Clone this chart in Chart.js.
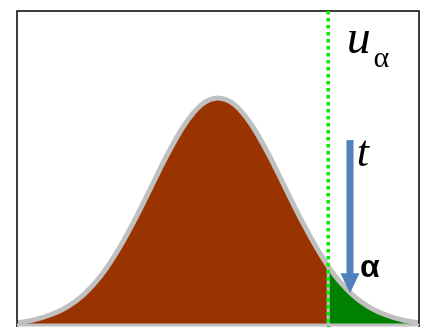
<!DOCTYPE html>
<html lang="en">
<head>
    <meta name="viewport" content="width=device-width, initial-scale=1">
    <title>Normal curve with u alpha</title>
    <script src="https://cdn.jsdelivr.net/npm/chart.js"></script>
    <style>
        html, body {
            margin: 0;
            padding: 0;
            background: #ffffff;
        }

        #chart-container {
            width: 424px;
            height: 327px;
        }

        /* makes the fonts load before the canvas uses them */
        .preload {
            position: absolute;
            left: -1000px;
            top: 0;
        }
    </style>
</head>
<body>

<div class="preload">
    <span style="font: italic 20px 'Liberation Serif'">u t</span>
    <span style="font: 20px 'Liberation Serif'">&alpha;</span>
    <span style="font: bold 20px 'Liberation Sans'">&alpha;</span>
</div>

<div id="chart-container">
    <canvas id="normalChart"></canvas>
</div>

<script>
    // density, x in sigma units
    const curveX = [-3, -2.75, -2.5, -2.25, -2, -1.75, -1.5, -1.25, -1, -0.75, -0.5, -0.25, 0,
        0.25, 0.5, 0.75, 1, 1.25, 1.5, 1.645, 1.75, 2, 2.25, 2.5, 2.75, 3];
    const curveY = [0.004, 0.009, 0.018, 0.032, 0.054, 0.086, 0.130, 0.183, 0.242, 0.301, 0.352, 0.387, 0.399,
        0.387, 0.352, 0.301, 0.242, 0.183, 0.130, 0.103, 0.086, 0.054, 0.032, 0.018, 0.009, 0.004];
    const uAlpha = 1.645;
    const uAlphaY = 0.103;

    // arrow "t" (x, top, bottom) in data units
    const arrowX = 1.97;
    const arrowTop = 0.325;
    const arrowBottom = 0.056;

    const labels = [
        { text: 'u', x: 1.92, y: 0.478, font: 'italic 48px "Liberation Serif", serif' },
        { text: '\u03b1', x: 2.32, y: 0.453, font: '30px "Liberation Serif", serif' },
        { text: 't', x: 2.07, y: 0.28, font: 'italic 44px "Liberation Serif", serif' },
        { text: '\u03b1', x: 2.12, y: 0.084, font: 'bold 32px "Liberation Sans", sans-serif' }
    ];

    const allPts = curveX.map((x, i) => ({ x: x, y: curveY[i] }));
    const leftPts = allPts.filter(p => p.x <= uAlpha);
    const rightPts = allPts.filter(p => p.x >= uAlpha);

    const extras = {
        id: 'extras',
        afterDatasetsDraw(chart) {
            const c = chart.ctx;
            const a = chart.chartArea;
            const xs = chart.scales.x;
            const ys = chart.scales.y;
            c.save();

            // frame
            c.strokeStyle = '#000000';
            c.lineWidth = 1.5;
            c.beginPath();
            c.moveTo(a.left, a.bottom + 2);
            c.lineTo(a.left, a.top);
            c.lineTo(a.right, a.top);
            c.lineTo(a.right, a.bottom + 2);
            c.stroke();

            // gray base line
            c.strokeStyle = '#c0c0c0';
            c.lineWidth = 3;
            c.beginPath();
            c.moveTo(a.left, ys.getPixelForValue(0));
            c.lineTo(a.right, ys.getPixelForValue(0));
            c.stroke();

            // dotted u alpha line
            const ux = xs.getPixelForValue(uAlpha);
            c.strokeStyle = '#00ee00';
            c.lineWidth = 3.5;
            c.setLineDash([3.5, 3.5]);
            c.beginPath();
            c.moveTo(ux, a.top);
            c.lineTo(ux, a.bottom + 2);
            c.stroke();
            c.setLineDash([]);

            // arrow
            const ax = xs.getPixelForValue(arrowX);
            const at = ys.getPixelForValue(arrowTop);
            const ab = ys.getPixelForValue(arrowBottom);
            c.fillStyle = '#4f81bd';
            c.fillRect(ax - 3.5, at, 7, ab - at - 19);
            c.beginPath();
            c.moveTo(ax - 9.5, ab - 20);
            c.lineTo(ax + 9.5, ab - 20);
            c.lineTo(ax, ab);
            c.closePath();
            c.fill();

            // labels
            c.fillStyle = '#000000';
            c.textBaseline = 'alphabetic';
            labels.forEach(l => {
                c.font = l.font;
                c.fillText(l.text, xs.getPixelForValue(l.x), ys.getPixelForValue(l.y));
            });
            c.restore();
        }
    };

    function drawChart() {
        const ctx = document.getElementById('normalChart').getContext('2d');
        new Chart(ctx, {
            type: 'line',
            data: {
                datasets: [
                    {
                        data: leftPts,
                        borderWidth: 0,
                        backgroundColor: '#993300',
                        fill: 'origin',
                        pointRadius: 0,
                        order: 3,
                        cubicInterpolationMode: 'monotone'
                    },
                    {
                        data: rightPts,
                        borderWidth: 0,
                        backgroundColor: '#008000',
                        fill: 'origin',
                        pointRadius: 0,
                        order: 3,
                        cubicInterpolationMode: 'monotone'
                    },
                    {
                        data: [{ x: uAlpha, y: 0 }, { x: uAlpha, y: uAlphaY }],
                        borderColor: '#c0c0c0',
                        borderWidth: 3,
                        fill: false,
                        pointRadius: 0,
                        order: 2
                    },
                    {
                        data: allPts,
                        borderColor: '#c0c0c0',
                        borderWidth: 5,
                        fill: false,
                        pointRadius: 0,
                        order: 1,
                        cubicInterpolationMode: 'monotone'
                    }
                ]
            },
            options: {
                responsive: true,
                maintainAspectRatio: false,
                animation: false,
                layout: { padding: { left: 17, right: 5, top: 11, bottom: 2 } },
                scales: {
                    x: { type: 'linear', min: -3, max: 3, display: false },
                    y: { min: 0, max: 0.552, display: false }
                },
                plugins: {
                    legend: { display: false },
                    tooltip: { enabled: false }
                }
            },
            plugins: [extras]
        });
    }

    document.fonts.load('italic 48px "Liberation Serif"')
        .then(() => document.fonts.load('bold 32px "Liberation Sans"'))
        .then(drawChart, drawChart);
</script>
</body>
</html>
